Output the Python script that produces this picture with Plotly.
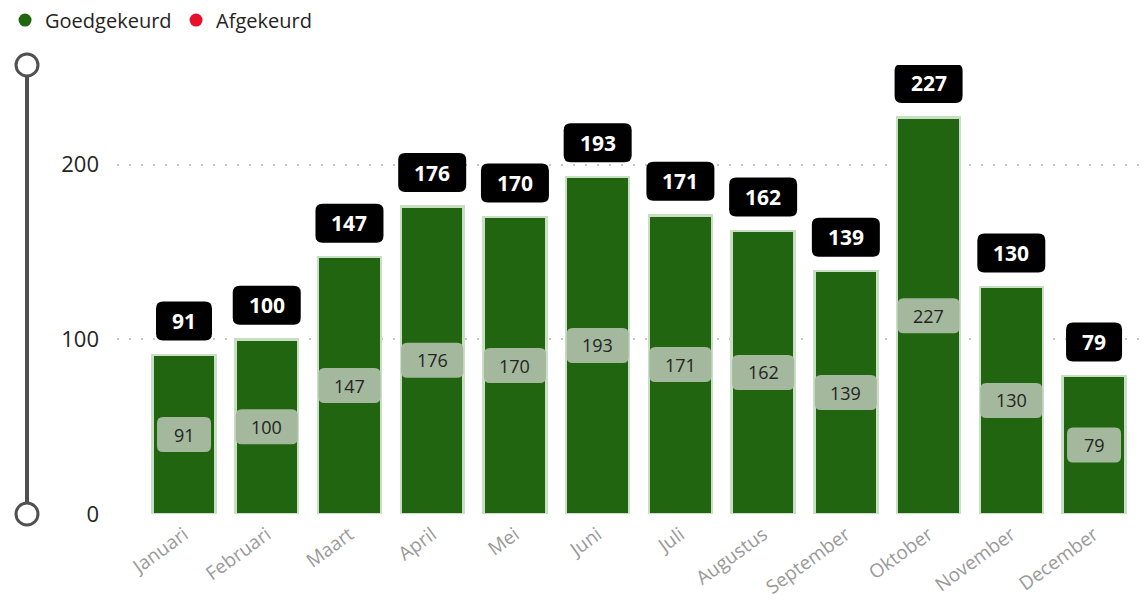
import plotly.graph_objects as go

# data
maanden = ['Januari', 'Februari', 'Maart', 'April', 'Mei', 'Juni', 'Juli',
           'Augustus', 'September', 'Oktober', 'November', 'December']
goedgekeurd = [91, 100, 147, 176, 170, 193, 171, 162, 139, 227, 130, 79]
afgekeurd = [0, 0, 0, 0, 0, 0, 0, 0, 0, 0, 0, 0]
y_ticks = [0, 100, 200]

FONT = 'Segoe UI, Open Sans, sans-serif'
GREEN = '#216511'
RED = '#e8112d'


def rounded_box(w, h, r, cy):
    # rounded rect path in pixels around (0, cy), relative to anchor
    x0, x1 = -w / 2, w / 2
    y0, y1 = cy - h / 2, cy + h / 2
    return (f'M{x0 + r},{y0} L{x1 - r},{y0} Q{x1},{y0} {x1},{y0 + r} '
            f'L{x1},{y1 - r} Q{x1},{y1} {x1 - r},{y1} L{x0 + r},{y1} '
            f'Q{x0},{y1} {x0},{y1 - r} L{x0},{y0 + r} Q{x0},{y0} {x0 + r},{y0} Z')


fig = go.Figure()

fig.add_trace(go.Bar(x=maanden, y=goedgekeurd, name='Goedgekeurd',
                     marker=dict(color=GREEN, line=dict(color='#c9dfc3', width=2.5)),
                     width=0.76, showlegend=False, hoverinfo='x+y'))
fig.add_trace(go.Bar(x=maanden, y=afgekeurd, name='Afgekeurd',
                     marker=dict(color=RED, line=dict(width=0)),
                     width=0.76, showlegend=False, hoverinfo='x+y'))

# legend entries with round markers
for naam, kleur in [('Goedgekeurd', GREEN), ('Afgekeurd', RED)]:
    fig.add_trace(go.Scatter(x=[None], y=[None], mode='markers', name=naam,
                             marker=dict(color=kleur, size=13, symbol='circle')))

totals = [g + a for g, a in zip(goedgekeurd, afgekeurd)]
shapes = []
annotations = []
for m, g, t in zip(maanden, goedgekeurd, totals):
    digits = len(str(g))
    # label inside the bar
    shapes.append(dict(type='path', xref='x', yref='y', xsizemode='pixel', ysizemode='pixel',
                       xanchor=m, yanchor=g / 2, layer='above', line=dict(width=0),
                       fillcolor='#a3b89d',
                       path=rounded_box(54 if digits < 3 else 62, 35, 6, 0)))
    annotations.append(dict(x=m, y=g / 2, text=str(g), showarrow=False,
                            font=dict(family=FONT, size=18, color='#252423')))
    # total on top
    shapes.append(dict(type='path', xref='x', yref='y', xsizemode='pixel', ysizemode='pixel',
                       xanchor=m, yanchor=t, layer='above', line=dict(width=0),
                       fillcolor='#000000',
                       path=rounded_box(56 if digits < 3 else 68, 39, 7, 34)))
    annotations.append(dict(x=m, y=t, yshift=34, text=f'<b>{t}</b>', showarrow=False,
                            font=dict(family=FONT, size=21, color='#ffffff')))

# vertical zoom slider on the left
shapes.append(dict(type='line', xref='paper', yref='paper', xsizemode='pixel',
                   xanchor=0, x0=-90, x1=-90, y0=0, y1=1,
                   line=dict(color='#505050', width=4), layer='below'))
for yy in [0, 1]:
    shapes.append(dict(type='circle', xref='paper', yref='paper', xsizemode='pixel',
                       ysizemode='pixel', xanchor=0, yanchor=yy,
                       x0=-101, x1=-79, y0=-11, y1=11,
                       fillcolor='white', line=dict(color='#505050', width=3)))

fig.update_layout(
    width=1147, height=603,
    barmode='stack',
    plot_bgcolor='white', paper_bgcolor='white',
    margin=dict(l=109, r=8, t=57, b=97, autoexpand=False),
    font=dict(family=FONT, color='#252423'),
    shapes=shapes, annotations=annotations,
    showlegend=True,
    legend=dict(orientation='h', x=-0.1087, y=1.1, xanchor='left', yanchor='middle',
                traceorder='normal', font=dict(size=20, color='#252423'),
                itemwidth=30, entrywidth=126, bgcolor='rgba(0,0,0,0)'),
    bargap=0.24,
)
fig.update_xaxes(range=[-0.81, 11.64], tickangle=-36, showgrid=False, showline=False,
                 ticks='', ticklabelstandoff=5, tickfont=dict(size=19, color='#9a9a9a'))
fig.update_yaxes(range=[0, 257], tickvals=y_ticks, showgrid=True, gridcolor='#c8c8c8',
                 griddash='2px,10px', gridwidth=1.5, zeroline=False, showline=False,
                 ticklabelstandoff=17, tickfont=dict(size=22, color='#252423'))

fig.write_html('out.html')
